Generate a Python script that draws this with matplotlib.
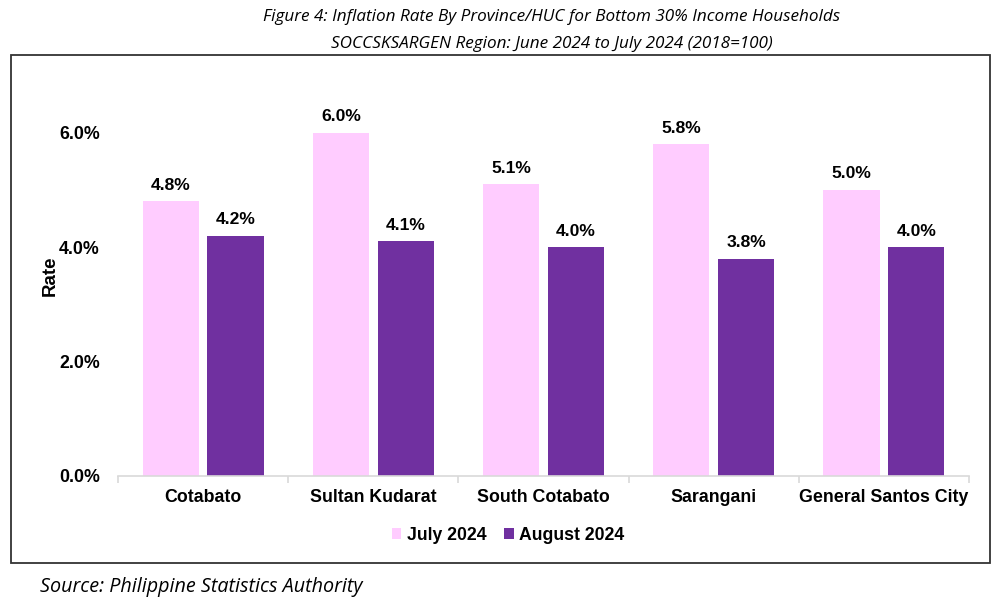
import matplotlib.pyplot as plt
import numpy as np
from matplotlib.patches import Rectangle

# data
provinces = ["Cotabato", "Sultan Kudarat", "South Cotabato", "Sarangani", "General Santos City"]
july_2024 = [4.8, 6.0, 5.1, 5.8, 5.0]
august_2024 = [4.2, 4.1, 4.0, 3.8, 4.0]
series_names = ["July 2024", "August 2024"]

title_lines = ["Figure 4: Inflation Rate By Province/HUC for Bottom 30% Income Households",
               "SOCCSKSARGEN Region: June 2024 to July 2024 (2018=100)"]
source_text = "Source: Philippine Statistics Authority"

pink = "#FFCCFF"
purple = "#7030A0"

fig = plt.figure(figsize=(9.98, 6.10), dpi=100)
W, H = 998, 610

# outer box around the chart
fig.patches.append(Rectangle((11 / W, 1 - 563 / H), (990 - 11) / W, (563 - 55) / H,
                             transform=fig.transFigure, fill=False,
                             edgecolor="#333333", linewidth=1.3))

ax = fig.add_axes([118 / W, 1 - 476 / H, (969 - 118) / W, (476 - 75.5) / H])

x = np.arange(len(provinces))
w = 0.33
off = 0.19
b1 = ax.bar(x - off, july_2024, w, color=pink, label=series_names[0])
b2 = ax.bar(x + off, august_2024, w, color=purple, label=series_names[1])

for bars, vals in ((b1, july_2024), (b2, august_2024)):
    for r, v in zip(bars, vals):
        ax.text(r.get_x() + r.get_width() / 2, v + 0.15, "%.1f%%" % v,
                ha="center", va="bottom", fontsize=12.6, fontweight="bold",
                family="Liberation Sans")

ax.set_xlim(-0.5, len(provinces) - 0.5)
ax.set_ylim(0, 7)
ax.set_yticks([0, 2, 4, 6])
ax.set_yticklabels(["%.1f%%" % t for t in [0, 2, 4, 6]])
ax.set_xticks(x)
ax.set_xticklabels(provinces)
ax.set_xticks(np.arange(len(provinces) + 1) - 0.5, minor=True)

for s in ["top", "right", "left"]:
    ax.spines[s].set_visible(False)
ax.spines["bottom"].set_color("#D9D9D9")
ax.spines["bottom"].set_linewidth(1.2)
ax.tick_params(axis="y", length=0, pad=13)
ax.tick_params(axis="x", which="major", length=0, pad=9)
ax.tick_params(axis="x", which="minor", length=5, color="#D9D9D9", width=1.2)
for lbl in ax.get_xticklabels() + ax.get_yticklabels():
    lbl.set_fontsize(12.8)
    lbl.set_fontweight("bold")
    lbl.set_family("Liberation Sans")

ax.set_ylabel("Rate", fontsize=13.5, fontweight="bold", family="Liberation Sans", labelpad=0)

leg = fig.legend(handles=[b1, b2], loc="center", bbox_to_anchor=(508 / W, 1 - 535 / H),
                 ncol=2, frameon=False, prop={"family": "Liberation Sans", "weight": "bold", "size": 12.7},
                 handlelength=0.55, handleheight=0.55, handletextpad=0.3, columnspacing=1.0)

fig.text(552 / W, 1 - 17 / H, title_lines[0], ha="center", va="center",
         fontsize=12.3, style="italic", family="Open Sans")
fig.text(552 / W, 1 - 44 / H, title_lines[1], ha="center", va="center",
         fontsize=12.3, style="italic", family="Open Sans")
fig.text(40 / W, 1 - 587 / H, source_text, ha="left", va="center",
         fontsize=14.2, style="italic", family="Open Sans")

fig.savefig("out.png", dpi=100)
